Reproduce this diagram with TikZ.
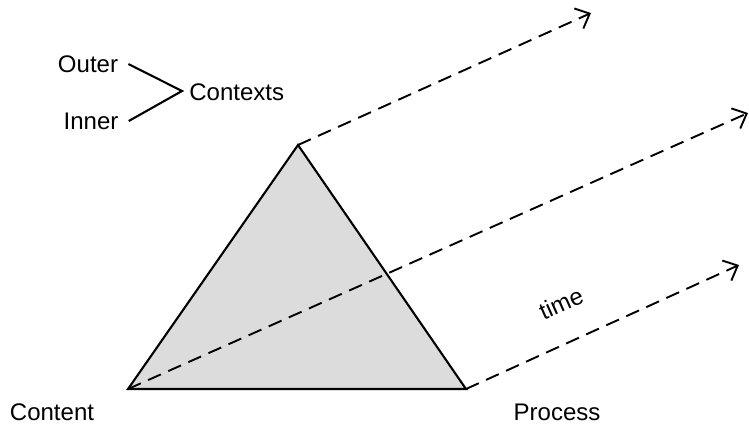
\documentclass[tikz,border=0pt]{standalone}
\usepackage{fontspec}
\setmainfont{Liberation Sans}
\usetikzlibrary{arrows.meta}
\definecolor{tri}{HTML}{DCDCDC}
\tikzset{
  lbl/.style={font=\fontsize{12}{14}\selectfont, inner sep=0pt},
  timearrow/.style={line width=0.95pt, dash pattern=on 7pt off 4pt, -{Straight Barb[length=6pt,width=11pt,line width=0.95pt]}},
  solid line/.style={line width=1.05pt, line join=miter}
}
\begin{document}
\begin{tikzpicture}[x=0.5pt,y=-0.5pt]
\useasboundingbox (0,0) rectangle (749,425);
\coordinate (A) at (298,145);
\coordinate (L) at (128,389);
\coordinate (R) at (466,389);
\coordinate (A2) at (591,13);
\coordinate (L2) at (748,113);
\coordinate (R2) at (739,265);
\filldraw[fill=tri, solid line] (L) -- (A) -- (R) -- cycle;
\draw[timearrow] (A) -- (A2);
\draw[timearrow] (L) -- (L2);
\draw[timearrow] (R) -- (R2);
\node[lbl] (outer) at (88,64) {Outer};
\node[lbl] (inner) at (91,121) {Inner};
\node[lbl, anchor=west] (ctx) at (189,92) {Contexts};
\coordinate (V) at (182,91);
\draw[solid line] ([xshift=5pt]outer.east) -- (V) -- ([xshift=5pt]inner.east);
\node[lbl] (content) at (52,412) {Content};
\node[lbl] (process) at (557,412) {Process};
\node[lbl, rotate=24] (time) at (561,303) {time};
\end{tikzpicture}
\end{document}
